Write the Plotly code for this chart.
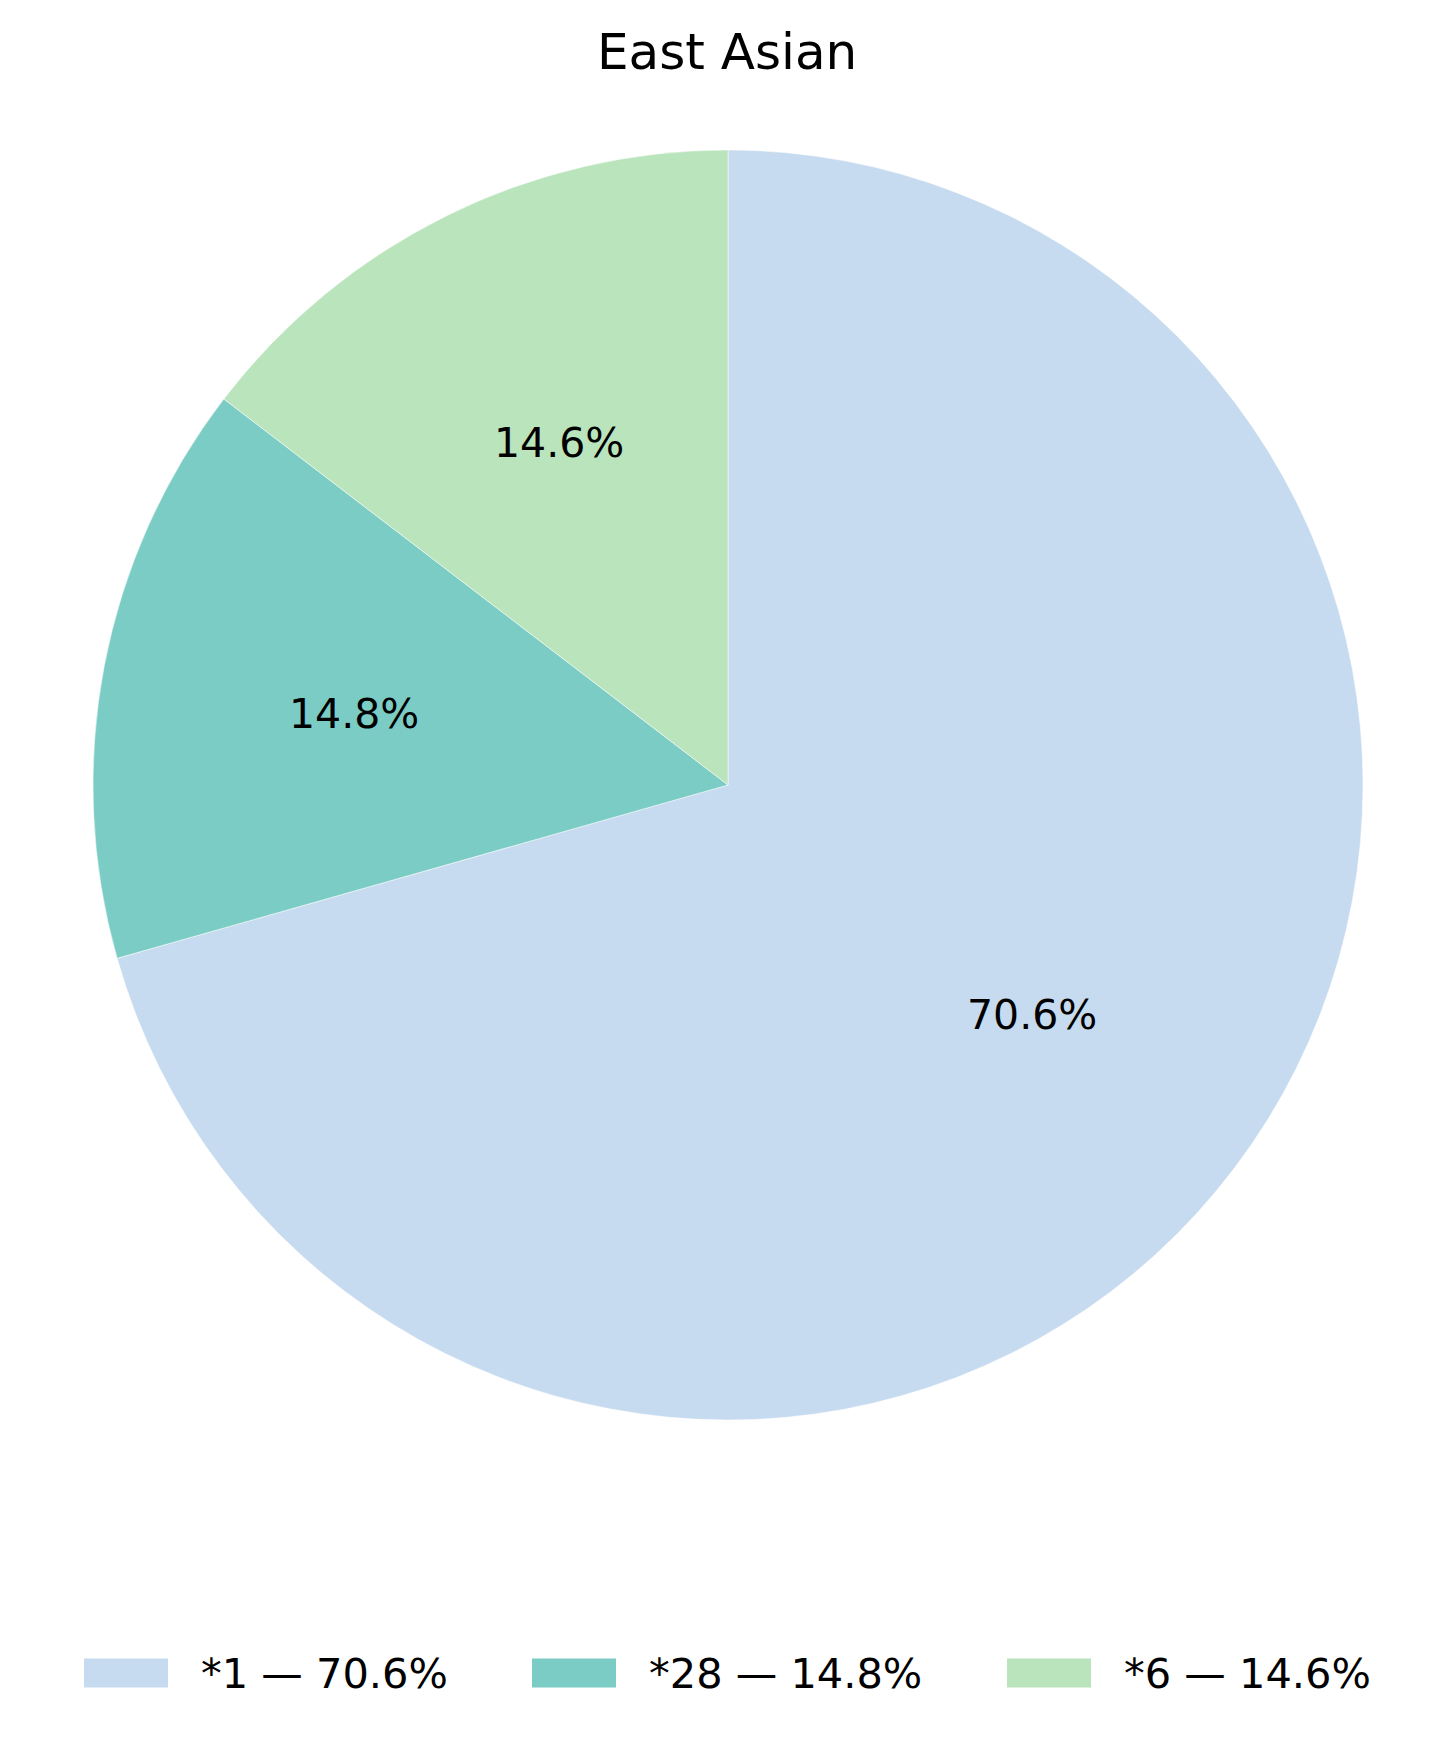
import math
import plotly.graph_objects as go

labels = ["*1", "*28", "*6"]
values = [70.6, 14.8, 14.6]
colors = ["#c6dbef", "#7bccc4", "#bae4bc"]
title = "East Asian"

W, H = 1455, 1743
FONT = "DejaVu Sans"
OFF = 8  # default page body margin


def fx(p):
    return (p - OFF) / W


def fy(p):
    return 1 - (p - OFF) / H


# pie geometry (screen pixels)
cx, cy, r = 728, 785, 635
dom_x = [fx(cx - r), fx(cx + r)]
dom_y = [fy(cy + r), fy(cy - r)]

fig = go.Figure()
fig.add_trace(go.Pie(
    labels=labels, values=values, sort=False, direction="clockwise", rotation=0,
    marker=dict(colors=colors, line=dict(color="white", width=0.5)),
    textinfo="none", hoverinfo="label+percent", showlegend=False,
    domain=dict(x=dom_x, y=dom_y),
))

annotations = []
total = sum(values)
cum = 0.0
for lab, v in zip(labels, values):
    mid = (cum + v / 2) / total * 2 * math.pi
    cum += v
    px = cx + 0.6 * r * math.sin(mid)
    py = cy - 0.6 * r * math.cos(mid)
    annotations.append(dict(
        x=fx(px), y=fy(py), xref="paper", yref="paper",
        text=f"{v / total * 100:.1f}%", showarrow=False,
        font=dict(family=FONT, size=41, color="black"),
        xanchor="center", yanchor="middle",
    ))

# legend built from the data
shapes = []
sw_x0 = [84, 532, 1007]
sw_w, sw_h = 84, 29
leg_y = 1673
for i, (lab, v) in enumerate(zip(labels, values)):
    x0 = sw_x0[i]
    shapes.append(dict(type="rect", xref="paper", yref="paper",
                       x0=fx(x0), x1=fx(x0 + sw_w),
                       y0=fy(leg_y + sw_h / 2), y1=fy(leg_y - sw_h / 2),
                       fillcolor=colors[i], line=dict(width=0)))
    annotations.append(dict(
        x=fx(x0 + sw_w + 31), y=fy(leg_y), xref="paper", yref="paper",
        text=f"{lab} — {v:.1f}%", showarrow=False,
        font=dict(family=FONT, size=41.5, color="black"),
        xanchor="left", yanchor="middle",
    ))

annotations.append(dict(
    x=fx(727), y=fy(52), xref="paper", yref="paper", text=title, showarrow=False,
    font=dict(family=FONT, size=50, color="black"), xanchor="center", yanchor="middle",
))

fig.update_layout(
    width=W, height=H, margin=dict(l=0, r=0, t=0, b=0),
    paper_bgcolor="white", plot_bgcolor="white",
    annotations=annotations, shapes=shapes,
)

fig.write_html("out.html")
